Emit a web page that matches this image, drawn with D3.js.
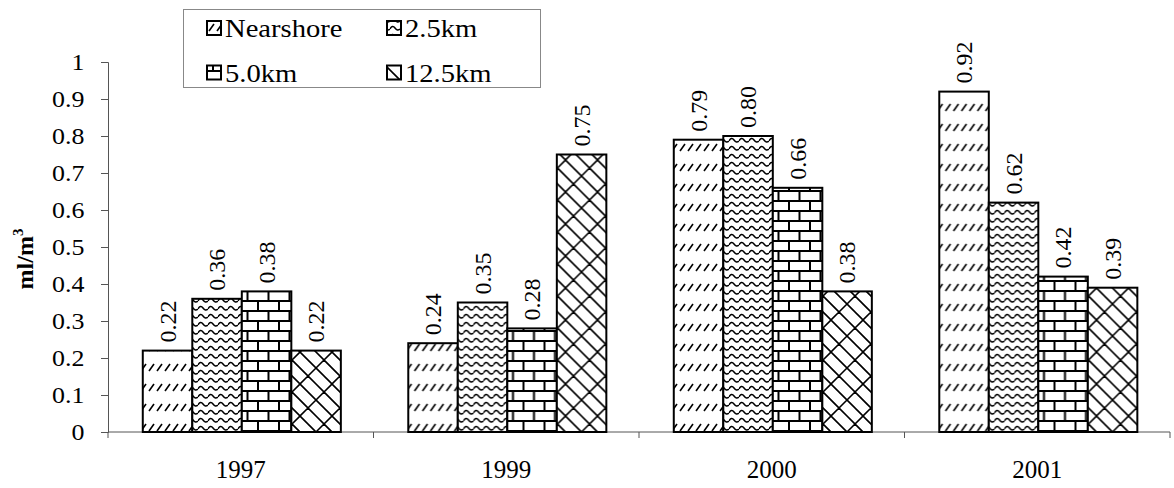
<!DOCTYPE html>
<html><head><meta charset="utf-8">
<script src="https://cdn.jsdelivr.net/npm/d3@7"></script>
<style>body{margin:0;background:#fff;}</style></head>
<body><svg id="c" width="1174" height="488"></svg>
<script>
const years = ["1997","1999","2000","2001"];
const seriesNames = ["Nearshore","2.5km","5.0km","12.5km"];
const nearshore = [0.22,0.24,0.79,0.92];
const km25 = [0.36,0.35,0.80,0.62];
const km50 = [0.38,0.28,0.66,0.42];
const km125 = [0.22,0.75,0.38,0.39];
const yTicks = [0,0.1,0.2,0.3,0.4,0.5,0.6,0.7,0.8,0.9,1];
const values = [nearshore,km25,km50,km125];

const svg = d3.select("#c");
const defs = svg.append("defs");
const FONT = "Liberation Serif";

function pat(id,w,h,draw){
  const p = defs.append("pattern").attr("id",id).attr("patternUnits","userSpaceOnUse")
    .attr("width",w).attr("height",h);
  p.append("rect").attr("width",w).attr("height",h).attr("fill","#fff");
  draw(p);
}
pat("p0",8,20,p=>{
  p.append("path").attr("d","M1,11 L6,4").attr("stroke","#000").attr("stroke-width",1.6).attr("fill","none");
});
pat("p1",10,8,p=>{
  p.append("path").attr("d","M0,5 Q2.5,0.5 5,4 Q7.5,7.5 10,5").attr("stroke","#000").attr("stroke-width",1.5).attr("fill","none");
});
pat("p2",21,20,p=>{
  p.append("path").attr("d","M0,1 H21 M0,11 H21 M3,1 V11 M13.5,11 V21").attr("stroke","#000").attr("stroke-width",2).attr("fill","none");
});
const S = 16;
pat("p3",2*S,2*S,p=>{
  let d = "";
  for(let k=-4;k<=3;k++){ d += `M${-S},${-S+S*k} L${3*S},${3*S+S*k} `; }
  for(let k=-4;k<=3;k++){
    const off = (((k%2)+2)%2)*(S/2);
    for(let a=-2*S+off;a<=3*S;a+=S){
      d += `M${a},${a+S*k} L${a-S/2},${a+S*k+S/2} `;
    }
  }
  p.append("path").attr("d",d).attr("stroke","#000").attr("stroke-width",1.6).attr("fill","none").attr("stroke-linecap","round");
});

const x0 = d3.scaleBand().domain(years).range([108,1170]).paddingInner(0).paddingOuter(0);
const bw = x0.bandwidth();
const x1 = d3.scaleBand().domain(seriesNames).range([bw*0.131, bw*0.877]).padding(0);
const y = d3.scaleLinear().domain([0,1]).range([432,62]);

const ya = svg.append("g").attr("transform","translate(108,0)")
  .call(d3.axisLeft(y).tickValues(yTicks).tickSize(7).tickPadding(16).tickFormat(d=>d===0?"0":d===1?"1":d3.format(".1f")(d)));
ya.attr("font-family",FONT).attr("font-size",24);
ya.select(".domain").attr("stroke","#555").attr("stroke-width",1);
ya.selectAll(".tick line").attr("stroke","#555");
ya.selectAll(".tick text").attr("fill","#000").attr("dy","0.32em")
  .attr("transform","translate(-16,0) scale(1.08,1) translate(16,0)");

const xa = svg.append("g").attr("transform","translate(0,432)");
xa.append("line").attr("x1",108).attr("x2",1170).attr("y1",0).attr("y2",0).attr("stroke","#555");
const bounds = years.map(d=>x0(d)).concat([x0(years[years.length-1])+bw]);
xa.selectAll("line.t").data(bounds).enter().append("line").attr("class","t")
  .attr("x1",d=>d).attr("x2",d=>d).attr("y1",0).attr("y2",6).attr("stroke","#555");
xa.selectAll("text").data(years).enter().append("text")
  .attr("x",d=>x0(d)+bw/2).attr("y",46).attr("text-anchor","middle")
  .attr("font-family",FONT).attr("font-size",25).text(d=>d);

const groups = svg.append("g").selectAll("g").data(years).enter().append("g")
  .attr("transform",d=>`translate(${x0(d)},0)`);
groups.each(function(yr,i){
  const g = d3.select(this);
  seriesNames.forEach((s,j)=>{
    const v = values[j][i];
    g.append("rect").attr("x",x1(s)).attr("width",x1.bandwidth())
      .attr("y",y(v)).attr("height",y(0)-y(v))
      .attr("fill",`url(#p${j})`).attr("stroke","#000").attr("stroke-width",2);
    const cx = x1(s)+x1.bandwidth()/2;
    const ty = y(v)-8;
    g.append("text").attr("transform",`translate(${cx},${ty}) rotate(-90)`)
      .attr("dy","0.35em").attr("text-anchor","start").attr("font-family",FONT).attr("font-size",24)
      .text(v.toFixed(2));
  });
});

svg.append("text").attr("transform","translate(33,259) rotate(-90)")
  .attr("text-anchor","middle").attr("font-family",FONT).attr("font-size",24).attr("font-weight","bold")
  .html('ml/m<tspan dy="-10" font-size="15">3</tspan>');

const lg = svg.append("g");
lg.append("rect").attr("x",183.5).attr("y",9.5).attr("width",357).attr("height",78)
  .attr("fill","#fff").attr("stroke","#888").attr("stroke-width",1);
const lpos = [[207,28],[387,28],[207,72.5],[387,72.5]];
seriesNames.forEach((s,j)=>{
  const [lx,ly] = lpos[j];
  lg.append("rect").attr("x",lx).attr("y",ly-7).attr("width",14).attr("height",14)
    .attr("fill",`url(#p${j})`).attr("stroke","#000").attr("stroke-width",2);
  lg.append("text").attr("transform",`translate(${lx+18},${ly+9}) scale(1.1,1)`)
    .attr("font-family",FONT).attr("font-size",26).text(s);
});
</script></body></html>
